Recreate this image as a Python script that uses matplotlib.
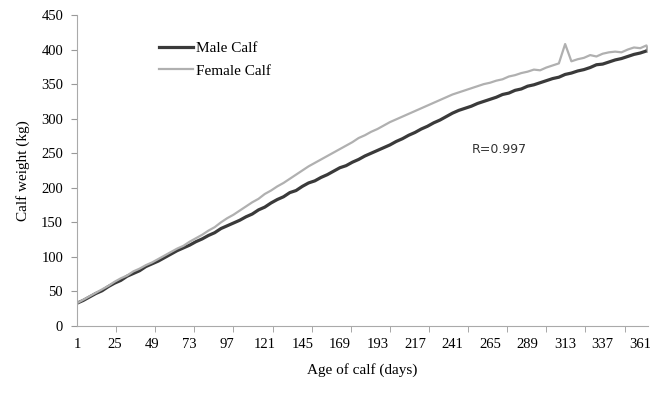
import numpy as np
import matplotlib.pyplot as plt

# age in days, sampled every 4 days
days = list(range(1, 366, 4)) + [366]

male = [33, 37, 42, 47, 51, 57, 62, 66, 72, 76, 80, 86, 90, 94, 99, 104,
        109, 113, 117, 122, 126, 131, 135, 141, 145, 149, 153, 158, 162, 168,
        172, 178, 183, 187, 193, 196, 202, 207, 210, 215, 219, 224, 229, 232,
        237, 241, 246, 250, 254, 258, 262, 267, 271, 276, 280, 285, 289, 294,
        298, 303, 308, 312, 315, 318, 322, 325, 328, 331, 335, 337, 341, 343,
        347, 349, 352, 355, 358, 360, 364, 366, 369, 371, 374, 378, 379, 382,
        385, 387, 390, 393, 395, 398, 401]

female = [33, 38, 43, 48, 53, 58, 64, 69, 73, 79, 83, 88, 92, 97, 102, 107,
          112, 116, 122, 127, 132, 138, 143, 150, 156, 161, 167, 173, 179, 184,
          191, 196, 202, 207, 213, 219, 225, 231, 236, 241, 246, 251, 256, 261,
          266, 272, 276, 281, 285, 290, 295, 299, 303, 307, 311, 315, 319, 323,
          327, 331, 335, 338, 341, 344, 347, 350, 352, 355, 357, 361, 363, 366,
          368, 371, 370, 374, 377, 380, 408, 383, 386, 388, 392, 390, 394, 396,
          397, 396, 400, 403, 402, 406, 397]

xlabels = list(range(1, 362, 24))
yticks = list(range(0, 451, 50))

plt.rcParams['font.family'] = 'Liberation Serif'

fig = plt.figure(figsize=(6.5, 3.95), dpi=100)
ax = fig.add_axes([0.1185, 0.1747, 0.8785, 0.7873])

ax.plot(days, male, color='#3a3a3a', lw=2.3, label='Male Calf')
ax.plot(days, female, color='#b0b0b0', lw=1.6, label='Female Calf')

ax.set_xlim(1, 366)
ax.set_ylim(0, 450)
ax.set_yticks(yticks)
ax.set_xticks(xlabels)
ax.set_xticks(list(range(1, 367, 25)), minor=True)
ax.tick_params(axis='x', which='major', length=0, pad=9, labelsize=10.5)
ax.tick_params(axis='x', which='minor', length=4, color='#999999', direction='out')
ax.tick_params(axis='y', length=4, color='#999999', pad=6, labelsize=10.5)

for s in ['top', 'right']:
    ax.spines[s].set_visible(False)
for s in ['left', 'bottom']:
    ax.spines[s].set_color('#aaaaaa')

ax.set_xlabel('Age of calf (days)', fontsize=11, labelpad=8)
ax.set_ylabel('Calf weight (kg)', fontsize=11, labelpad=8)

ax.text(253, 250, 'R=0.997', fontsize=9, family='DejaVu Sans', color='#333333')

ax.legend(loc='upper left', bbox_to_anchor=(0.12, 0.96), frameon=False,
          fontsize=11, handlelength=2.2, handletextpad=0.2, labelspacing=0.6)

fig.savefig('out.png')
